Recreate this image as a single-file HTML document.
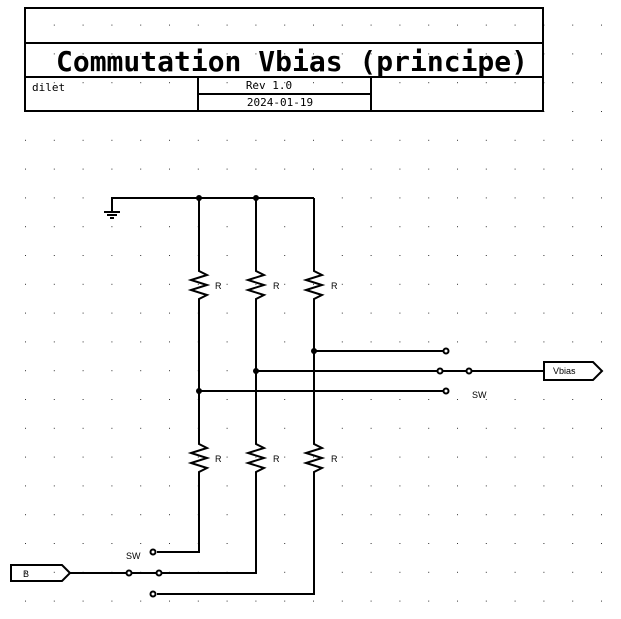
<!DOCTYPE html>
<html><head><style>
html,body{margin:0;padding:0;background:#fff;}
svg{display:block;}
text{font-family:"DejaVu Sans Mono","Liberation Mono",monospace;fill:#000;}
</style></head><body>
<svg width="621" height="619" viewBox="0 0 621 619" xmlns="http://www.w3.org/2000/svg">
<defs>
<pattern id="g" x="25" y="24.6" width="28.8" height="28.8" patternUnits="userSpaceOnUse">
<rect x="0" y="0" width="1" height="1" fill="#333"/>
</pattern>
</defs>
<rect x="0" y="0" width="621" height="619" fill="url(#g)"/>
<g fill="none" stroke="#000" stroke-width="2">
<rect x="25" y="8" width="518" height="103" fill="none"/>
<line x1="25" y1="43" x2="543" y2="43"/>
<line x1="25" y1="77" x2="543" y2="77"/>
<line x1="198" y1="77" x2="198" y2="111"/>
<line x1="371" y1="77" x2="371" y2="111"/>
<line x1="198" y1="94" x2="371" y2="94"/>
</g>
<text x="292" y="71" font-size="28" font-weight="bold" text-anchor="middle">Commutation Vbias (principe)</text>
<text x="32" y="91" font-size="11">dilet</text>
<text x="269" y="89" font-size="11" text-anchor="middle">Rev 1.0</text>
<text x="280" y="106" font-size="11" text-anchor="middle">2024-01-19</text>

<g fill="none" stroke="#000" stroke-width="2">
<polyline points="112,212 112,198 314,198"/>
<line x1="104" y1="212" x2="120" y2="212"/>
<line x1="107" y1="215" x2="117" y2="215"/>
<line x1="110" y1="218" x2="114" y2="218"/>
<path d="M199,198 V271 l8,4 l-16,5 l16,5 l-16,5 l16,5 l-8,4 V444 l8,4 l-16,5 l16,5 l-16,5 l16,5 l-8,4 V552 H157"/>
<path d="M256,198 V271 l8,4 l-16,5 l16,5 l-16,5 l16,5 l-8,4 V444 l8,4 l-16,5 l16,5 l-16,5 l16,5 l-8,4 V573 H162"/>
<path d="M314,198 V271 l8,4 l-16,5 l16,5 l-16,5 l16,5 l-8,4 V444 l8,4 l-16,5 l16,5 l-16,5 l16,5 l-8,4 V594 H157"/>
<line x1="314" y1="351" x2="443" y2="351"/>
<line x1="256" y1="371" x2="437" y2="371"/>
<line x1="199" y1="391" x2="443" y2="391"/>
<line x1="443" y1="371" x2="466" y2="371"/>
<line x1="472" y1="371" x2="544" y2="371"/>
<line x1="70" y1="573" x2="126" y2="573"/>
<line x1="132" y1="573" x2="156" y2="573"/>
<polygon points="544,362 593,362 602,371 593,380 544,380"/>
<polygon points="11,565 62,565 70,573 62,581 11,581"/>
</g>
<g fill="#fff" stroke="#000" stroke-width="2">
<circle cx="446" cy="351" r="2.5"/>
<circle cx="440" cy="371" r="2.5"/>
<circle cx="469" cy="371" r="2.5"/>
<circle cx="446" cy="391" r="2.5"/>
<circle cx="153" cy="552" r="2.5"/>
<circle cx="129" cy="573" r="2.5"/>
<circle cx="159" cy="573" r="2.5"/>
<circle cx="153" cy="594" r="2.5"/>
</g>
<g fill="#000">
<circle cx="199" cy="198" r="3"/>
<circle cx="256" cy="198" r="3"/>
<circle cx="314" cy="351" r="3"/>
<circle cx="256" cy="371" r="3"/>
<circle cx="199" cy="391" r="3"/>
</g>
<g font-size="9">
<text x="215" y="289" style="font-family:'Liberation Sans',sans-serif">R</text>
<text x="273" y="289" style="font-family:'Liberation Sans',sans-serif">R</text>
<text x="331" y="289" style="font-family:'Liberation Sans',sans-serif">R</text>
<text x="215" y="462" style="font-family:'Liberation Sans',sans-serif">R</text>
<text x="273" y="462" style="font-family:'Liberation Sans',sans-serif">R</text>
<text x="331" y="462" style="font-family:'Liberation Sans',sans-serif">R</text>
<text x="472" y="398" style="font-family:'Liberation Sans',sans-serif">SW</text>
<text x="126" y="559" style="font-family:'Liberation Sans',sans-serif">SW</text>
<text x="553" y="374" style="font-family:'Liberation Sans',sans-serif">Vbias</text>
<text x="23" y="577" style="font-family:'Liberation Sans',sans-serif">B</text>
</g>
</svg>
</body></html>
